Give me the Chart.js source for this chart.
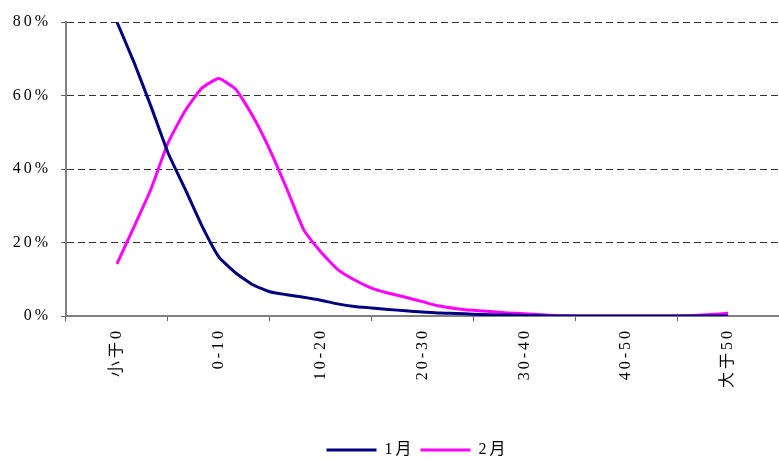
<!DOCTYPE html>
<html>
<head>
<meta charset="utf-8">
<script src="https://cdn.jsdelivr.net/npm/chart.js@4"></script>
<style>
  html, body { margin: 0; padding: 0; background: #fff; }
  #wrap { width: 779px; height: 460px; }
</style>
</head>
<body>
<div id="wrap"><canvas id="myChart"></canvas></div>
<script>
    // category labels on the x axis
    const categories = ['小于0', '0-10', '10-20', '20-30', '30-40', '40-50', '大于50']
    const seriesNames = ['1月', '2月']
    // readings per category step (6 steps between two category centres)
    const STEPS = 6
    const jan = [80.0, 69.1, 57.1, 44.5, 34.7, 24.6, 16.1, 11.7, 8.5, 6.6, 5.8, 5.1, 4.3,
                 3.3, 2.6, 2.2, 1.8, 1.4, 1.1, 0.8, 0.7, 0.5, 0.35, 0.25, 0.15, 0.05,
                 0, 0, 0, 0, 0, 0, 0, 0, 0, 0, 0]
    const feb = [14.2, 24.2, 34.5, 47.0, 55.7, 62.0, 64.6, 61.7, 54.4, 45.3, 34.7, 23.5, 17.5,
                 12.7, 9.8, 7.6, 6.2, 5.1, 3.9, 2.7, 2.0, 1.55, 1.2, 0.85, 0.6, 0.35,
                 0.1, 0, 0, 0, 0, 0, 0, 0, 0.15, 0.4, 0.75]
    const yTicks = [0, 20, 40, 60, 80]

    const toPoints = arr => arr.map((v, i) => ({ x: i / STEPS, y: v }))
    const fontFamily = "'Liberation Serif', 'Noto Sans CJK SC', serif"

    // wide letter spacing like the original, and legend nudged right/down
    const tweaks = {
      id: 'tweaks',
      beforeLayout(chart) { chart.ctx.letterSpacing = '3px' },
      afterLayout(chart) {
        chart.legend.left += 28
        chart.legend.right += 28
        chart.legend.top += 8
        chart.legend.bottom += 8
      },
      beforeDraw(chart) { chart.ctx.letterSpacing = '3px' }
    }

    const datachart = {
      labels: categories,
      datasets: [{
        label: seriesNames[0],
        data: toPoints(jan),
        xAxisID: 'xl',
        borderColor: '#000080',
        backgroundColor: '#000080',
        borderWidth: 3,
        pointRadius: 0,
        pointStyle: 'line',
        tension: 0.15
      }, {
        label: seriesNames[1],
        data: toPoints(feb),
        xAxisID: 'xl',
        borderColor: '#ff00ff',
        backgroundColor: '#ff00ff',
        borderWidth: 3,
        pointRadius: 0,
        pointStyle: 'line',
        tension: 0.15
      }]
    }

    const config = {
      type: 'line',
      data: datachart,
      plugins: [tweaks],
      options: {
        responsive: true,
        maintainAspectRatio: false,
        animation: false,
        layout: { padding: { top: 22, right: 0, bottom: 0, left: 0 } },
        plugins: {
          tooltip: { enabled: false },
          legend: {
            position: 'bottom',
            labels: {
              usePointStyle: true,
              pointStyleWidth: 50,
              padding: 6,
              color: '#000',
              font: { family: fontFamily, size: 16 }
            }
          }
        },
        scales: {
          x: {
            type: 'category',
            offset: true,
            border: { color: '#808080', width: 2 },
            grid: { offset: true, drawOnChartArea: false, tickLength: 5, tickColor: '#606060', tickWidth: 1 },
            ticks: {
              minRotation: 90,
              maxRotation: 90,
              padding: 7,
              color: '#000',
              font: { family: fontFamily, size: 16 }
            },
            afterFit(scale) { scale.height = 112 }
          },
          xl: {
            type: 'linear',
            display: false,
            min: -0.5,
            max: categories.length - 0.5
          },
          y: {
            min: yTicks[0],
            max: yTicks[yTicks.length - 1],
            afterBuildTicks(scale) { scale.ticks = yTicks.map(v => ({ value: v })) },
            border: { color: '#808080', width: 2, dash: [7, 4] },
            grid: {
              color: ctx => ctx.tick && ctx.tick.value === 0 ? 'rgba(0,0,0,0)' : '#333',
              tickBorderDash: [],
              tickColor: '#606060',
              tickLength: 5,
              lineWidth: 1
            },
            ticks: {
              padding: 10,
              color: '#000',
              font: { family: fontFamily, size: 16 },
              callback: v => v + '%'
            },
            afterFit(scale) { scale.width = 66 }
          }
        }
      }
    }

    const myChart = new Chart(document.getElementById('myChart'), config)
</script>
</body>
</html>
